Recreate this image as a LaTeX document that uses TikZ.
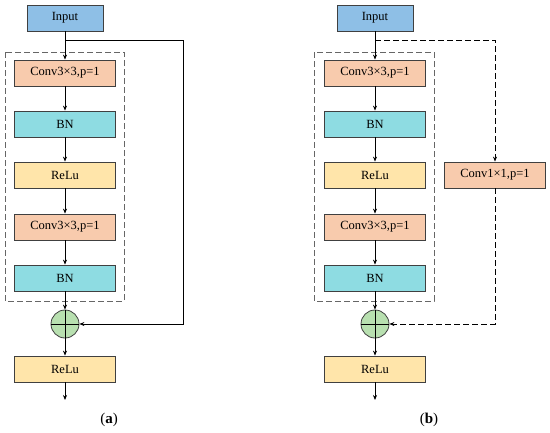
\documentclass[tikz,border=0pt]{standalone}
\usepackage{fontspec}
\setmainfont{Liberation Serif}
\usetikzlibrary{arrows.meta}
\definecolor{cinput}{HTML}{8EBFE6}
\definecolor{cconv}{HTML}{F8CBAD}
\definecolor{cbn}{HTML}{8EDCE2}
\definecolor{crelu}{HTML}{FFE5AA}
\definecolor{cadd}{HTML}{B8E0B0}
\definecolor{cedge}{HTML}{404040}
\tikzset{
  blk/.style={draw=cedge, line width=0.8pt, minimum width=101pt, minimum height=26pt, inner sep=0pt, font=\fontsize{12.5}{13}\selectfont},
  inbox/.style={blk, fill=cinput, minimum width=76pt},
  convbox/.style={blk, fill=cconv},
  bnbox/.style={blk, fill=cbn},
  relubox/.style={blk, fill=crelu},
  addnode/.style={circle, draw=cedge, line width=0.8pt, fill=cadd, minimum size=28pt, inner sep=0pt},
  arr/.style={-{Stealth[length=5pt,width=4pt]}, line width=0.7pt},
  dashbox/.style={draw=gray!80!black, line width=0.8pt, dash pattern=on 6pt off 3pt},
  dashln/.style={dash pattern=on 6pt off 3pt},
  captxt/.style={font=\fontsize{15}{16}\selectfont}
}
\begin{document}
\begin{tikzpicture}[x=1pt,y=-1pt]
\useasboundingbox (0,0) rectangle (550,432);
% ---------- panel (a) ----------
\begin{scope}
\node[inbox] (ai) at (65,18) {Input};
\node[convbox] (ac1) at (65,73) {Conv3×3,p=1};
\node[bnbox] (ab1) at (65,124) {BN};
\node[relubox] (ar1) at (65,175) {ReLu};
\node[convbox] (ac2) at (65,227) {Conv3×3,p=1};
\node[bnbox] (ab2) at (65,278) {BN};
\node[addnode] (aadd) at (65,324) {};
\draw[line width=0.7pt] (aadd.north) -- (aadd.south) (aadd.west) -- (aadd.east);
\node[relubox] (ar2) at (65,369) {ReLu};
\coordinate (aout) at (65,400);
\coordinate (aj) at (65,40);
\coordinate (ar) at (183,40);
\coordinate (ard) at (183,324);
\draw[dashbox] (5,52) rectangle (124,301);
\draw[arr] (ai) -- (ac1);
\draw[arr] (ac1) -- (ab1);
\draw[arr] (ab1) -- (ar1);
\draw[arr] (ar1) -- (ac2);
\draw[arr] (ac2) -- (ab2);
\draw[arr] (ab2) -- (aadd);
\draw[arr] (aadd) -- (ar2);
\draw[arr] (ar2) -- (aout);
\draw[arr] (aj) -- (ar) -- (ard) -- (aadd.east);
\node[captxt] (alab) at (109,420) {(\textbf{a})};
\end{scope}
% ---------- panel (b) ----------
\begin{scope}[xshift=310pt]
\node[inbox] (bi) at (65,18) {Input};
\node[convbox] (bc1) at (65,73) {Conv3×3,p=1};
\node[bnbox] (bb1) at (65,124) {BN};
\node[relubox] (br1) at (65,175) {ReLu};
\node[convbox] (bc2) at (65,227) {Conv3×3,p=1};
\node[bnbox] (bb2) at (65,278) {BN};
\node[addnode] (badd) at (65,324) {};
\draw[line width=0.7pt] (badd.north) -- (badd.south) (badd.west) -- (badd.east);
\node[relubox] (br2) at (65,369) {ReLu};
\node[convbox] (bsc) at (185,175) {Conv1×1,p=1};
\coordinate (bout) at (65,400);
\coordinate (bj) at (65,40);
\coordinate (br) at (185,40);
\coordinate (brd) at (185,324);
\draw[dashbox] (4,52) rectangle (124,301);
\draw[arr] (bi) -- (bc1);
\draw[arr] (bc1) -- (bb1);
\draw[arr] (bb1) -- (br1);
\draw[arr] (br1) -- (bc2);
\draw[arr] (bc2) -- (bb2);
\draw[arr] (bb2) -- (badd);
\draw[arr] (badd) -- (br2);
\draw[arr] (br2) -- (bout);
\draw[arr, dashln] (bj) -- (br) -- (bsc.north);
\draw[arr, dashln] (bsc.south) -- (brd) -- (badd.east);
\node[captxt] (blab) at (119,420) {(\textbf{b})};
\end{scope}
\end{tikzpicture}
\end{document}
